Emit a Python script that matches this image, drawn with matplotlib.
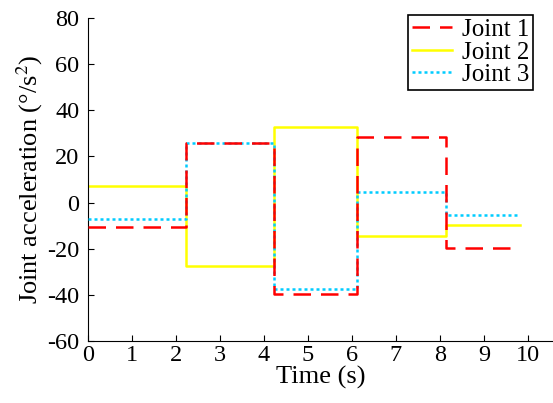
import numpy as np
import matplotlib.pyplot as plt

plt.rcParams['font.family'] = ['Liberation Serif', 'DejaVu Serif']
plt.rcParams['mathtext.fontset'] = 'stix'
plt.rcParams['axes.unicode_minus'] = False

# switching times (s)
t = [0, 2.23, 4.23, 6.11, 8.14, 9.82]
joint1 = [-10.8, 26.0, -39.5, 28.5, -19.8]
joint2 = [7.0, -27.3, 33.0, -14.7, -9.6]
joint3 = [-7.0, 26.0, -37.5, 4.5, -5.2]

fig = plt.figure(figsize=(5.53, 4.03), dpi=100)
ax = fig.add_axes([0.159, 0.154, 0.841, 0.801])

ax.step(t, joint1 + [joint1[-1]], where='post', color='#ff0000', lw=1.8,
        dashes=(7, 4), label='Joint 1', zorder=4)
ax.step(t, joint2 + [joint2[-1]], where='post', color='#ffff00', lw=1.8,
        label='Joint 2', zorder=2)
ax.step(t, joint3 + [joint3[-1]], where='post', color='#00ccff', lw=1.8,
        dashes=(1.2, 1.2), label='Joint 3', zorder=3)

ax.set_xlim(0, 10.57)
ax.set_ylim(-60, 80)
ax.set_xticks(range(0, 11))
ax.set_yticks(range(-60, 81, 20))
ax.tick_params(direction='in', length=4, labelsize=17.5)
ax.tick_params(axis='x', pad=3)
ax.tick_params(axis='y', pad=6)
ax.spines['top'].set_visible(False)
ax.spines['right'].set_visible(False)

ax.set_xlabel('Time (s)', fontsize=19, labelpad=0)
ax.set_ylabel('Joint acceleration (°/s$^2$)', fontsize=19, labelpad=2)

leg = ax.legend(loc='upper right', bbox_to_anchor=(0.964, 0.963),
                bbox_transform=fig.transFigure, fontsize=18,
                fancybox=False, edgecolor='black', framealpha=1,
                handlelength=1.6, handletextpad=0.4, borderpad=0.15,
                labelspacing=0.0, borderaxespad=0)
leg.get_frame().set_linewidth(1.2)

fig.savefig('out.png', dpi=100)
